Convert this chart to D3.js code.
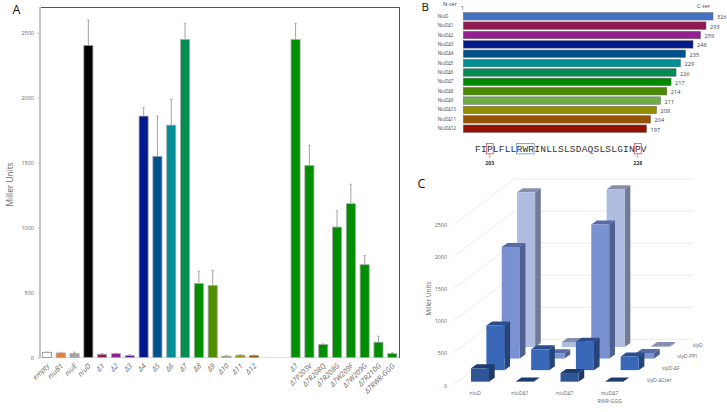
<!DOCTYPE html>
<html><head><meta charset="utf-8">
<script src="https://cdn.jsdelivr.net/npm/d3@7"></script>
<style>html,body{margin:0;padding:0;background:#fff}svg{display:block}text{font-family:"Open Sans",sans-serif}</style>
</head><body><svg id="c" width="727" height="412"></svg>
<script>
// Panel A
const aCategories = ["empty","niuB1","niuE","niuD","Δ1","Δ2","Δ3","Δ4","Δ5","Δ6","Δ7","Δ8","Δ9","Δ10","Δ11","Δ12","","","Δ7","Δ7P203V","Δ7R208Q","Δ7R208G","Δ7W209F","Δ7W209G","Δ7R210G","Δ7RWR-GGG"];
const aValues = [40,35,30,2405,25,30,15,1860,1550,1790,2450,570,555,10,18,15,null,null,2450,1480,100,1005,1185,715,118,30];
const aErrTop = [42,40,42,2600,30,33,22,1925,1860,1990,2575,665,670,15,22,20,null,null,2575,1635,105,1130,1335,785,165,38];
const aColors = ["#ffffff","#ed7d31","#a5a5a5","#000000","#8f1a50","#92208f","#5a1f9e","#001a8e","#00528f","#008f94","#008f51","#008f00","#4f8f00","#70ad47","#929000","#945200",null,null,"#008f00","#008f00","#008f00","#008f00","#008f00","#008f00","#008f00","#008f00"];
const aTicks = [0,500,1000,1500,2000,2500];
// Panel B
const bNames = ["NiuD","NiuDΔ1","NiuDΔ2","NiuDΔ3","NiuDΔ4","NiuDΔ5","NiuDΔ6","NiuDΔ7","NiuDΔ8","NiuDΔ9","NiuDΔ10","NiuDΔ11","NiuDΔ12"];
const bLabels = [326,293,259,248,235,229,226,217,214,211,208,204,197];
const bDrawnLength = [100,97.2,95,92,89,87,85.2,83.2,81.5,79,77.4,75,73.4];
const bColors = ["#4472c4","#8f1a50","#92208f","#001a8e","#00528f","#008f94","#008a55","#008a00","#4a8a00","#70ad47","#928f00","#945400","#941100"];
const sequence = "FIPLFLLRWRINLLSLSDAQSLSLGINPV";
const redResidues = [{i:2,label:"203"},{i:27,label:"228"}];
const blueResidues = [7,9];
// Panel C
const cGroups = ["niuD","niuDΔ1","niuDΔ7","niuDΔ7|RWR-GGG"];
const cRows = ["slyD-ΔCter","slyD-ΔF","slyD-PPI","slyD"];
const cRow0 = [209,5,135,5];
const cRow1 = [697,325,441,214];
const cRow2 = [1741,83,2090,87];
const cRow3 = [2413,78,2460,15];
const cTicks = [0,500,1000,1500,2000,2500];
const cFace = ["#2f5597","#3a68b8","#7a92d2","#afbcdf"];
const cSide = ["#203a68","#264477","#4f5f8f","#717b96"];
const cTop  = ["#1f3a6f","#2a4d8c","#566ba5","#858fac"];

const svg = d3.select("#c");
const grey = "#666";

// ---------- A ----------
const ax = d3.scaleBand().domain(d3.range(aCategories.length)).range([40,399.2]).paddingInner(0.34).paddingOuter(0.17);
const ay = d3.scaleLinear().domain([0,2500]).range([357.5,33]);
const A = svg.append("g");
A.append("line").attr("x1",40).attr("x2",400).attr("y1",7.5).attr("y2",7.5).attr("stroke","#555").attr("stroke-width",1);
A.append("line").attr("x1",399.5).attr("x2",399.5).attr("y1",7).attr("y2",358).attr("stroke","#555").attr("stroke-width",1);
A.append("line").attr("x1",40).attr("x2",399).attr("y1",ay(0)).attr("y2",ay(0)).attr("stroke","#e0e0e0").attr("stroke-width",1);
const aYAxis = A.append("g").attr("transform","translate(40,0)").call(d3.axisLeft(ay).tickValues(aTicks).tickSize(2).tickPadding(4).tickFormat(d3.format("d")));
aYAxis.select(".domain").remove();
aYAxis.selectAll("line").attr("stroke","#bbb");
aYAxis.selectAll("text").attr("font-size",5.5).attr("fill",grey);
A.append("line").attr("x1",40).attr("x2",40).attr("y1",7).attr("y2",358).attr("stroke","#c4c4c4").attr("stroke-width",2);
const idx = d3.range(aCategories.length).filter(i=>aValues[i]!==null);
A.selectAll("line.err").data(idx).join("line").attr("class","err")
  .attr("x1",i=>ax(i)+ax.bandwidth()/2).attr("x2",i=>ax(i)+ax.bandwidth()/2)
  .attr("y1",i=>ay(aValues[i])).attr("y2",i=>ay(aErrTop[i])).attr("stroke","#999").attr("stroke-width",0.9);
A.selectAll("line.cap").data(idx).join("line").attr("class","cap")
  .attr("x1",i=>ax(i)+ax.bandwidth()/2-1.3).attr("x2",i=>ax(i)+ax.bandwidth()/2+1.3)
  .attr("y1",i=>ay(aErrTop[i])).attr("y2",i=>ay(aErrTop[i])).attr("stroke","#999").attr("stroke-width",0.7);
A.selectAll("rect").data(idx).join("rect")
  .attr("x",i=>ax(i)).attr("width",ax.bandwidth())
  .attr("y",i=>ay(aValues[i])).attr("height",i=>ay(0)-ay(aValues[i]))
  .attr("fill",i=>aColors[i]).attr("stroke",i=>i===0?"#888":"#aaa").attr("stroke-width",0.8);
A.selectAll("text.cat").data(idx).join("text").attr("class","cat")
  .attr("transform",i=>`translate(${ax(i)+ax.bandwidth()/2+1.5},${365}) rotate(-45)`)
  .attr("text-anchor","end").attr("dominant-baseline","middle")
  .attr("font-size",7.2).attr("font-style","italic").attr("fill",grey).text(i=>aCategories[i]);
A.append("text").attr("transform","translate(12.5,184.5) rotate(-90)").attr("text-anchor","middle").attr("font-size",8.3).attr("fill",grey).text("Miller Units");
svg.append("text").attr("x",12.5).attr("y",14).attr("font-size",12.5).attr("fill","#111").text("A");

// ---------- B ----------
const bx = d3.scaleLinear().domain([0,100]).range([463.3,713]);
const by = d3.scaleBand().domain(bNames).range([11.6,133.4]).paddingInner(0.2).paddingOuter(0.1);
const B = svg.append("g");
B.selectAll("rect").data(bNames).join("rect")
  .attr("x",bx(0)).attr("y",d=>by(d)).attr("height",by.bandwidth())
  .attr("width",(d,i)=>bx(bDrawnLength[i])-bx(0))
  .attr("fill",(d,i)=>bColors[i]).attr("stroke","#666").attr("stroke-width",0.5);
B.selectAll("text.n").data(bNames).join("text").attr("class","n")
  .attr("x",437.7).attr("y",d=>by(d)+by.bandwidth()/2+1.5).attr("font-size",4.5).attr("fill","#444").text(d=>d);
B.selectAll("text.v").data(bLabels).join("text").attr("class","v")
  .attr("x",(d,i)=>bx(bDrawnLength[i])+4).attr("y",(d,i)=>by(bNames[i])+by.bandwidth()/2+3)
  .attr("font-size",5.6).attr("fill","#444").text(d=>d);
B.append("text").attr("x",443).attr("y",6).attr("font-size",5.8).attr("fill","#444").text("N-ter");
B.append("text").attr("x",461).attr("y",10).attr("font-size",5.2).attr("fill","#444").text("1");
B.append("text").attr("x",697).attr("y",7.5).attr("font-size",5.8).attr("fill","#444").text("C-ter");
svg.append("text").attr("x",421.5).attr("y",11).attr("font-size",11.5).attr("fill","#111").text("B");

const sx = d3.scaleLinear().domain([0,sequence.length]).range([475,646.7]);
const sw = sx(1)-sx(0);
B.selectAll("text.s").data(sequence.split("")).join("text").attr("class","s")
  .attr("x",(d,i)=>sx(i)+sw/2).attr("y",152).attr("text-anchor","middle")
  .attr("font-size",9.6).style("font-family","'Liberation Mono',monospace").attr("fill","#333").text(d=>d);
B.append("rect").attr("x",sx(blueResidues[0])).attr("y",143.5).attr("width",sx(blueResidues[1]+1)-sx(blueResidues[0])).attr("height",10.3)
  .attr("fill","none").attr("stroke","#7d9bd8").attr("stroke-width",0.9);
redResidues.forEach(r=>{
  const c = sx(r.i)+sw/2;
  B.append("rect").attr("x",sx(r.i)-0.5).attr("y",143.5).attr("width",sw+1).attr("height",10.3).attr("fill","none").attr("stroke","#f0555f").attr("stroke-width",0.9);
  B.append("line").attr("x1",c).attr("x2",c).attr("y1",154).attr("y2",158).attr("stroke","#777").attr("stroke-width",0.6);
  B.append("text").attr("x",c).attr("y",165).attr("text-anchor","middle").attr("font-size",5.2).attr("font-weight",700).attr("fill","#333").text(r.label);
});

// ---------- C ----------
const C = svg.append("g");
const cy = d3.scaleLinear().domain([0,2500]).range([385.3,225]);
const cGroupX = d3.scaleLinear().domain([0,3]).range([471,605.3]);
const rowDx = d3.scaleLinear().domain([0,3]).range([0,46.1]);
const rowDy = d3.scaleLinear().domain([0,3]).range([0,-34.7]);
const cRowsData = [cRow0,cRow1,cRow2,cRow3];
const wallDx = 61, wallDy = -46, wallRight = 693.3;
const gridC = "#e3e3e3";
cTicks.forEach(t=>{
  C.append("line").attr("x1",453).attr("y1",cy(t)).attr("x2",453+wallDx).attr("y2",cy(t)+wallDy).attr("stroke",gridC).attr("stroke-width",0.7);
  C.append("line").attr("x1",453+wallDx).attr("y1",cy(t)+wallDy).attr("x2",wallRight).attr("y2",cy(t)+wallDy).attr("stroke",gridC).attr("stroke-width",0.7);
});
const cAxis = C.append("g").attr("transform","translate(450,0)").call(d3.axisLeft(cy).tickValues(cTicks).tickSize(0).tickPadding(3).tickFormat(d3.format("d")));
cAxis.select(".domain").remove();
cAxis.selectAll("text").attr("font-size",5.4).attr("fill",grey);
C.append("text").attr("transform","translate(430.5,298.5) rotate(-90)").attr("text-anchor","middle").attr("font-size",6.4).attr("fill",grey).text("Miller Units");

const w = 18, dx = 5.7, dy = -4, base0 = 381.7;
d3.range(3,-1,-1).forEach(r=>{
  const g = C.append("g");
  const xL = i=>cGroupX(i)+rowDx(r);
  const yB = base0+rowDy(r);
  const h = v=>cy(0)-cy(v);
  const items = cRowsData[r];
  g.selectAll("path.side").data(items).join("path").attr("class","side").attr("fill",cSide[r])
    .attr("d",(v,i)=>{const x=xL(i)+w,t=yB-h(v);return `M${x},${yB}L${x+dx},${yB+dy}L${x+dx},${t+dy}L${x},${t}Z`;});
  g.selectAll("path.top").data(items).join("path").attr("class","top").attr("fill",cTop[r])
    .attr("d",(v,i)=>{const x=xL(i),t=yB-h(v);return `M${x},${t}L${x+w},${t}L${x+w+dx},${t+dy}L${x+dx},${t+dy}Z`;});
  g.selectAll("rect").data(items).join("rect").attr("fill",cFace[r])
    .attr("x",(v,i)=>xL(i)).attr("width",w).attr("y",v=>yB-h(v)).attr("height",v=>h(v));
});
cGroups.forEach((g,i)=>{
  const x = cGroupX(i)+4.3;
  g.split("|").forEach((line,k)=>{
    C.append("text").attr("x",x).attr("y",395+k*7.6).attr("text-anchor","middle").attr("font-size",5.2).attr("fill",grey).text(line);
  });
});
const rowLabelX = d3.scaleLinear().domain([0,3]).range([646.7,692.7]);
const rowLabelY = d3.scaleLinear().domain([0,3]).range([381.5,346.8]);
C.selectAll("text.row").data(cRows).join("text").attr("class","row")
  .attr("x",(d,i)=>rowLabelX(i)).attr("y",(d,i)=>rowLabelY(i)).attr("font-size",5.2).attr("fill",grey).text(d=>d);
svg.append("text").attr("x",417.5).attr("y",188).attr("font-size",12.5).attr("fill","#111").text("C");
</script></body></html>
